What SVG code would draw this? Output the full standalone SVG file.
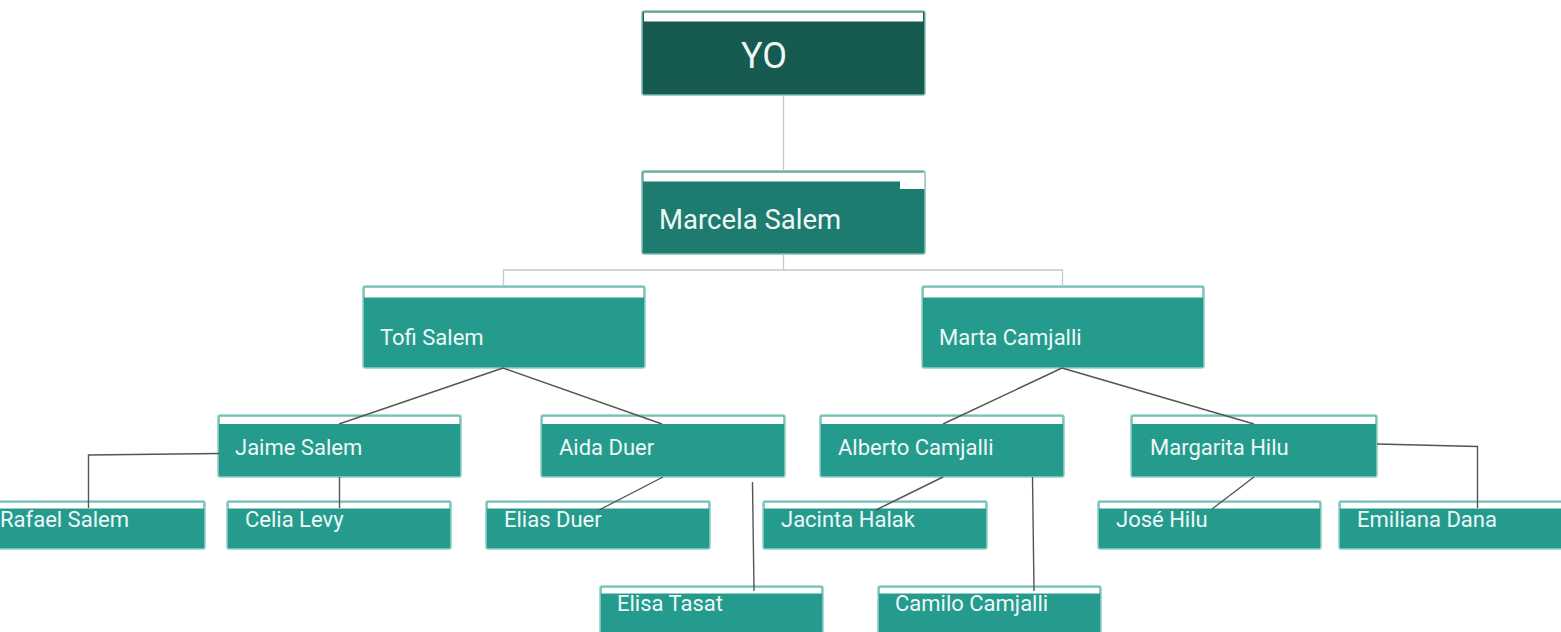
<svg xmlns="http://www.w3.org/2000/svg" width="1561" height="632" viewBox="0 0 1561 632">
<style>
.box{fill:#259b8e;stroke:#8fd0c6;stroke-width:1.5}
.strip{fill:#ffffff}
.t{font-family:Roboto,"Liberation Sans",sans-serif;fill:#eef8f6;font-size:22px}
.lg{stroke:#c8c8c8;stroke-width:1.3;fill:none}
.ld{stroke:#555555;stroke-width:1.4;fill:none}
</style>
<rect width="1561" height="632" fill="#ffffff"/>
<g id="yo">
<rect x="642" y="11" width="283" height="84" rx="2" fill="#175a50" stroke="#7fbdb3" stroke-width="1.5"/>
<rect class="strip" x="644" y="12.5" width="279" height="9"/>
<text x="764" y="68" font-family="Roboto,'Liberation Sans',sans-serif" font-size="36" fill="#eef8f6" text-anchor="middle">YO</text>
</g>
<g id="marcela">
<rect x="642" y="171" width="283" height="83" rx="2" fill="#1e7b6f" stroke="#7fbdb3" stroke-width="1.5"/>
<rect class="strip" x="643.5" y="172.5" width="281" height="9"/>
<rect class="strip" x="900" y="180" width="24.5" height="9"/>
<text class="t" x="659" y="229" style="font-size:27.5px">Marcela Salem</text>
</g>
<g id="tofi">
<rect class="box" x="363" y="286" width="282" height="82" rx="2"/>
<rect class="strip" x="364.5" y="287.5" width="279" height="10"/>
<text class="t" x="380" y="345">Tofi Salem</text>
</g>
<g id="marta">
<rect class="box" x="922" y="286" width="282" height="82" rx="2"/>
<rect class="strip" x="923.5" y="287.5" width="279" height="10"/>
<text class="t" x="939" y="345">Marta Camjalli</text>
</g>
<g id="jaime">
<rect class="box" x="218" y="415" width="243" height="62" rx="2"/>
<rect class="strip" x="219.5" y="416.5" width="240" height="7.5"/>
<text class="t" x="235" y="455">Jaime Salem</text>
</g>
<g id="aida">
<rect class="box" x="541" y="415" width="244" height="62" rx="2"/>
<rect class="strip" x="542.5" y="416.5" width="241" height="7.5"/>
<text class="t" x="559" y="455">Aida Duer</text>
</g>
<g id="alberto">
<rect class="box" x="820" y="415" width="244" height="62" rx="2"/>
<rect class="strip" x="821.5" y="416.5" width="241" height="7.5"/>
<text class="t" x="838" y="455">Alberto Camjalli</text>
</g>
<g id="margarita">
<rect class="box" x="1131" y="415" width="246" height="62" rx="2"/>
<rect class="strip" x="1132.5" y="416.5" width="243" height="7.5"/>
<text class="t" x="1150" y="455">Margarita Hilu</text>
</g>
<g id="rafael">
<rect class="box" x="-10" y="501" width="215" height="48" rx="2"/>
<rect class="strip" x="-8" y="502.5" width="211.5" height="6"/>
<text class="t" x="0" y="527">Rafael Salem</text>
</g>
<g id="celia">
<rect class="box" x="227" y="501" width="224" height="48" rx="2"/>
<rect class="strip" x="228.5" y="502.5" width="221" height="6"/>
<text class="t" x="245" y="527">Celia Levy</text>
</g>
<g id="elias">
<rect class="box" x="486" y="501" width="224" height="48" rx="2"/>
<rect class="strip" x="487.5" y="502.5" width="221" height="6"/>
<text class="t" x="504" y="527">Elias Duer</text>
</g>
<g id="jacinta">
<rect class="box" x="763" y="501" width="224" height="48" rx="2"/>
<rect class="strip" x="764.5" y="502.5" width="221" height="6"/>
<text class="t" x="781" y="527">Jacinta Halak</text>
</g>
<g id="jose">
<rect class="box" x="1098" y="501" width="223" height="48" rx="2"/>
<rect class="strip" x="1099.5" y="502.5" width="220" height="6"/>
<text class="t" x="1116" y="527">José Hilu</text>
</g>
<g id="emiliana">
<rect class="box" x="1339" y="501" width="230" height="48" rx="2"/>
<rect class="strip" x="1340.5" y="502.5" width="227" height="6"/>
<text class="t" x="1357" y="527">Emiliana Dana</text>
</g>
<g id="elisa">
<rect class="box" x="600" y="586" width="223" height="56" rx="2"/>
<rect class="strip" x="601.5" y="587.5" width="220" height="6"/>
<text class="t" x="617" y="611">Elisa Tasat</text>
</g>
<g id="camilo">
<rect class="box" x="878" y="586" width="223" height="56" rx="2"/>
<rect class="strip" x="879.5" y="587.5" width="220" height="6"/>
<text class="t" x="895" y="611">Camilo Camjalli</text>
</g>
<g id="connectors">
<path class="lg" d="M783.5 95.5 V171"/>
<path class="lg" d="M783.5 254.5 V270 M503.5 286.5 V270 H1062.5 V286.5"/>
<path class="ld" d="M503 368 L339 424"/>
<path class="ld" d="M503 368 L662 424"/>
<path class="ld" d="M1062 368 L943 424"/>
<path class="ld" d="M1062 368 L1254 424"/>
<path class="ld" d="M219 453.5 L88.5 455 V508"/>
<path class="ld" d="M339.5 477 V508"/>
<path class="ld" d="M663 477 L599 510"/>
<path class="ld" d="M752.5 482 L754 591"/>
<path class="ld" d="M943 477 L876 510"/>
<path class="ld" d="M1032.5 477 L1034 591"/>
<path class="ld" d="M1254 477 L1212 509"/>
<path class="ld" d="M1377 444 L1477.5 446.5 V508"/>
</g>
</svg>
